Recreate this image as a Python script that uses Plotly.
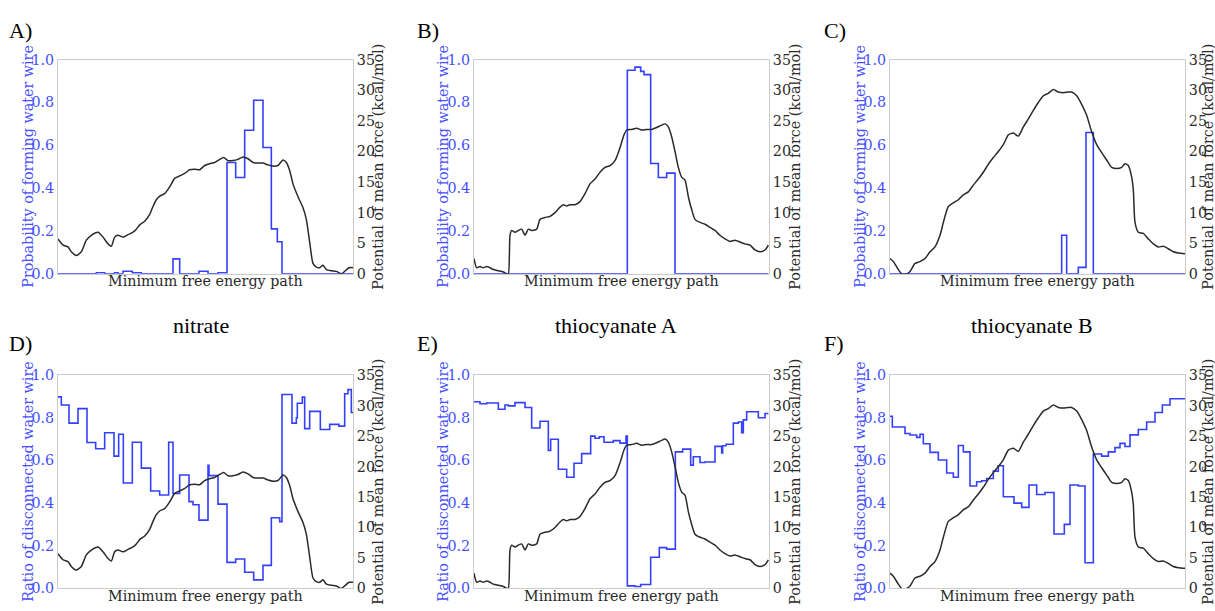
import plotly.graph_objects as go

# ---------------- data ----------------
# PMF curves along the minimum free energy path (path coordinate 0..885), kcal/mol
pmf_nitrate_x = [0, 15, 30, 40, 55, 70, 85, 100, 120, 135, 150, 160, 170, 180, 195, 210, 225, 235, 245, 260,
                 275, 285, 295, 305, 320, 335, 350, 365, 380, 395, 410, 425, 440, 455, 470, 485, 497, 510, 525, 540,
                 555, 570, 585, 600, 615, 630, 645, 660, 675, 685, 695, 705, 720, 735, 745, 755, 765, 775, 785, 795,
                 805, 820, 835, 850, 860, 873, 885]
pmf_nitrate_y = [5.7, 4.7, 4.4, 3.6, 3.0, 3.6, 5.5, 6.3, 6.8, 6.0, 4.9, 4.5, 6.0, 6.3, 6.0, 6.4, 6.8, 7.3, 8.0, 8.6,
                 9.7, 11.0, 12.1, 12.7, 13.1, 14.2, 15.6, 16.0, 16.4, 17.0, 17.1, 17.0, 17.7, 18.0, 18.2, 18.7, 19.0, 18.5, 18.5, 18.7,
                 19.1, 18.8, 18.2, 18.1, 18.1, 17.8, 17.6, 17.7, 18.6, 18.2, 16.9, 14.7, 12.6, 10.8, 8.9, 5.2, 1.7, 1.1, 1.0, 1.4,
                 0.7, 0.5, 0.4, 0.0, 0.4, 1.0, 1.0]

pmf_thioA_x = [0, 8, 18, 28, 38, 48, 58, 73, 88, 98, 103, 108, 113, 123, 133, 143, 153, 163, 173, 188,
               198, 213, 228, 243, 258, 268, 278, 288, 303, 318, 333, 348, 363, 378, 393, 408, 423, 438, 450, 458,
               473, 488, 503, 518, 533, 548, 563, 573, 583, 593, 603, 613, 623, 633, 643, 653, 663, 678, 693, 708,
               723, 738, 753, 768, 783, 798, 813, 828, 843, 858, 873, 883]
pmf_thioA_y = [2.5, 1.0, 1.2, 1.0, 1.2, 1.0, 0.7, 0.5, 0.3, 0.0, 0.0, 6.3, 7.1, 6.8, 7.1, 7.3, 6.3, 7.3, 7.1, 7.3,
               8.9, 9.2, 9.4, 10.0, 10.9, 11.3, 11.1, 11.3, 11.3, 11.8, 13.1, 14.7, 15.5, 16.6, 17.4, 17.7, 18.5, 20.6, 22.7, 23.5,
               23.6, 23.8, 23.5, 23.6, 23.6, 23.9, 24.3, 24.5, 24.0, 22.4, 20.0, 17.4, 15.8, 15.3, 12.6, 10.5, 8.9, 8.4, 8.1, 7.6,
               7.1, 6.3, 5.7, 5.3, 5.5, 5.2, 4.9, 4.7, 3.9, 3.6, 3.9, 4.7]

pmf_thioB_x = [0, 10, 25, 35, 50, 60, 75, 90, 105, 120, 135, 150, 160, 175, 190, 205, 220, 235, 250, 265,
               280, 295, 310, 325, 340, 355, 370, 385, 400, 415, 430, 445, 460, 475, 490, 505, 520, 535, 545, 560,
               575, 590, 605, 620, 635, 650, 665, 680, 695, 705, 715, 725, 730, 735, 745, 760, 775, 790, 805, 820,
               835, 850, 865, 885]
pmf_thioB_y = [2.5, 2.0, 0.7, 0.0, 0.0, 0.4, 1.7, 2.0, 2.5, 3.6, 4.4, 6.3, 8.4, 11.0, 11.6, 12.1, 12.9, 13.4, 14.5, 15.5,
               16.6, 17.9, 19.0, 20.0, 21.1, 22.7, 23.0, 22.5, 24.0, 25.3, 26.7, 28.0, 29.1, 29.5, 30.1, 29.7, 29.6, 29.7, 29.7, 29.1,
               27.7, 25.9, 23.2, 21.1, 19.8, 18.6, 17.4, 17.2, 17.4, 18.0, 17.7, 15.8, 13.7, 8.4, 6.8, 6.6, 5.7, 4.9, 4.4, 4.5,
               4.1, 3.6, 3.4, 3.3]

# Step histograms: bin edges (path coordinate) and values
wire_nitrate_edges = [0, 115, 140, 170, 180, 195, 223, 250, 345, 365, 423, 450, 480, 507, 533, 560, 587, 615, 640, 658, 672, 885]
wire_nitrate_vals = [0, 0.005, 0, 0.005, 0, 0.012, 0.005, 0, 0.07, 0, 0.012, 0, 0.005, 0.52, 0.45, 0.67, 0.81, 0.59, 0.21, 0.15, 0]

wire_thioA_edges = [0, 460, 483, 500, 510, 530, 553, 578, 603, 883]
wire_thioA_vals = [0, 0.95, 0.965, 0.945, 0.93, 0.515, 0.45, 0.47, 0]

wire_thioB_edges = [0, 515, 530, 565, 588, 610, 885]
wire_thioB_vals = [0, 0.18, 0, 0.03, 0.66, 0]

disc_nitrate_edges = [0, 10, 33, 60, 87, 113, 140, 168, 182, 196, 223, 250, 278, 305, 332, 345, 365, 393, 405, 423,
                      450, 453, 480, 507, 533, 560, 587, 615, 640, 665, 672, 702, 715, 718, 733, 740, 755, 787, 815, 843,
                      860, 870, 880, 885]
disc_nitrate_vals = [0.898, 0.86, 0.775, 0.843, 0.684, 0.655, 0.73, 0.62, 0.723, 0.494, 0.685, 0.564, 0.457, 0.438, 0.685,
                     0.445, 0.532, 0.407, 0.392, 0.32, 0.577, 0.529, 0.395, 0.122, 0.138, 0.076, 0.04, 0.108, 0.331, 0.313,
                     0.909, 0.775, 0.80, 0.868, 0.897, 0.749, 0.83, 0.745, 0.769, 0.761, 0.913, 0.932, 0.825]

disc_thioA_edges = [0, 18, 38, 73, 93, 103, 123, 153, 173, 198, 223, 230, 253, 278, 300, 323, 350, 363, 376, 390,
                    418, 438, 456, 460, 483, 500, 530, 556, 578, 604, 626, 650, 658, 678, 693, 723, 743, 746, 756, 778,
                    793, 803, 808, 818, 853, 873, 883]
disc_thioA_vals = [0.875, 0.866, 0.869, 0.84, 0.86, 0.856, 0.871, 0.848, 0.752, 0.784, 0.647, 0.699, 0.559, 0.521, 0.587,
                   0.632, 0.714, 0.704, 0.711, 0.685, 0.693, 0.681, 0.714, 0.012, 0.009, 0.018, 0.146, 0.191, 0.184, 0.64,
                   0.653, 0.578, 0.617, 0.59, 0.593, 0.666, 0.635, 0.669, 0.676, 0.775, 0.78, 0.73, 0.79, 0.828, 0.80, 0.82]

disc_thioB_edges = [0, 7, 45, 60, 80, 90, 100, 120, 145, 170, 190, 205, 220, 240, 260, 275, 290, 310, 325, 340,
                    372, 395, 417, 440, 465, 492, 523, 540, 565, 585, 610, 635, 655, 675, 690, 705, 720, 745, 770, 795,
                    817, 840, 885]
disc_thioB_vals = [0.807, 0.757, 0.726, 0.719, 0.708, 0.723, 0.678, 0.638, 0.602, 0.541, 0.521, 0.67, 0.64, 0.48, 0.50,
                   0.505, 0.515, 0.55, 0.575, 0.43, 0.40, 0.38, 0.485, 0.44, 0.45, 0.255, 0.30, 0.485, 0.48, 0.12,
                   0.63, 0.62, 0.64, 0.66, 0.68, 0.665, 0.72, 0.745, 0.78, 0.825, 0.86, 0.889]

panel_letters = ["A)", "B)", "C)", "D)", "E)", "F)"]
system_titles = ["nitrate", "thiocyanate A", "thiocyanate B"]
left_titles = ["Probability of forming water wire", "Ratio of disconnected water wire"]
right_title = "Potential of mean force (kcal/mol)"
x_title = "Minimum free energy path"

# ---------------- layout geometry (pixels) ----------------
W, H = 1215, 611
col_x0 = [58, 474, 890]
col_x1 = [353, 769, 1185]
row_y0 = [53, 377]
row_y1 = [273, 596]
left_title_x = [28, 443, 860]
right_title_x = [378, 795, 1208]
letter_x = [7, 415, 822]
letter_y = [23, 345]
title_x = [201, 616, 1032]
title_y = 326
xtitle_y = [280, 604]

BLUE = "#3340ff"
BLUE_TXT = "#4450ff"
DARK = "#2a2a2a"
TICKFONT = "DejaVu Serif"
SERIF = "Liberation Serif"
FS = 14.3


def px(x):
    return x / W


def py(y):
    return 1 - y / H


def steps(edges, vals):
    return list(edges), list(vals) + [vals[-1]]


pmfs = [(pmf_nitrate_x, pmf_nitrate_y), (pmf_thioA_x, pmf_thioA_y), (pmf_thioB_x, pmf_thioB_y)]
hists = [
    [(wire_nitrate_edges, wire_nitrate_vals), (wire_thioA_edges, wire_thioA_vals), (wire_thioB_edges, wire_thioB_vals)],
    [(disc_nitrate_edges, disc_nitrate_vals), (disc_thioA_edges, disc_thioA_vals), (disc_thioB_edges, disc_thioB_vals)],
]

fig = go.Figure()
layout = dict(
    width=W, height=H, margin=dict(l=0, r=0, t=0, b=0), autosize=False,
    paper_bgcolor="white", plot_bgcolor="white", showlegend=False,
)
annotations = []

k = 0
for r in range(2):
    for c in range(3):
        k += 1
        xa = f"xaxis{k if k > 1 else ''}"
        ya = 2 * k - 1
        yb = 2 * k
        xref = f"x{k if k > 1 else ''}"
        yref_a = f"y{ya if ya > 1 else ''}"
        yref_b = f"y{yb}"
        layout[xa] = dict(
            domain=[px(col_x0[c]), px(col_x1[c])], anchor=yref_a, range=[0, 885],
            showticklabels=False, ticks="", showgrid=False, zeroline=False,
            showline=True, mirror=True, linecolor="#cccccc", linewidth=1,
        )
        layout[f"yaxis{ya if ya > 1 else ''}"] = dict(
            domain=[py(row_y1[r]), py(row_y0[r])], anchor=xref, range=[0, 1], dtick=0.2,
            tickformat=".1f", ticks="", showgrid=False, zeroline=False,
            showline=True, linecolor="#cccccc", linewidth=1,
            tickfont=dict(family=TICKFONT, size=FS, color=BLUE_TXT),
        )
        layout[f"yaxis{yb}"] = dict(
            overlaying=yref_a, anchor=xref, side="right", range=[0, 35], dtick=5,
            ticks="", showgrid=False, zeroline=False,
            showline=True, linecolor="#cccccc", linewidth=1,
            tickfont=dict(family=TICKFONT, size=FS, color=DARK),
        )
        ex, ev = steps(*hists[r][c])
        fig.add_trace(go.Scatter(x=ex, y=ev, mode="lines", line=dict(color=BLUE, width=1.6, shape="hv"),
                                 xaxis=xref, yaxis=yref_a, hoverinfo="skip"))
        fig.add_trace(go.Scatter(x=pmfs[c][0], y=pmfs[c][1], mode="lines",
                                 line=dict(color=DARK, width=1.5, shape="spline", smoothing=0.6),
                                 xaxis=xref, yaxis=yref_b, hoverinfo="skip"))

        cy = (row_y0[r] + row_y1[r]) / 2
        cx = (col_x0[c] + col_x1[c]) / 2
        annotations.append(dict(text=left_titles[r], x=px(left_title_x[c]), y=py(cy), xref="paper", yref="paper",
                                textangle=-90, showarrow=False, xanchor="center", yanchor="middle",
                                font=dict(family=TICKFONT, size=FS, color=BLUE_TXT)))
        annotations.append(dict(text=right_title, x=px(right_title_x[c]), y=py(cy), xref="paper", yref="paper",
                                textangle=-90, showarrow=False, xanchor="center", yanchor="middle",
                                font=dict(family=TICKFONT, size=FS, color=DARK)))
        annotations.append(dict(text=x_title, x=px(cx), y=py(xtitle_y[r]), xref="paper", yref="paper",
                                showarrow=False, xanchor="center", yanchor="middle",
                                font=dict(family=TICKFONT, size=FS, color=DARK)))
        annotations.append(dict(text=panel_letters[k - 1], x=px(letter_x[c]), y=py(letter_y[r]), xref="paper",
                                yref="paper", showarrow=False, xanchor="left", yanchor="middle",
                                font=dict(family=SERIF, size=22, color="black")))
        if r == 1:
            annotations.append(dict(text=system_titles[c], x=px(title_x[c]), y=py(title_y), xref="paper",
                                    yref="paper", showarrow=False, xanchor="center", yanchor="middle",
                                    font=dict(family=SERIF, size=22, color="black")))

layout["annotations"] = annotations
fig.update_layout(**layout)
fig.write_html("out.html")
